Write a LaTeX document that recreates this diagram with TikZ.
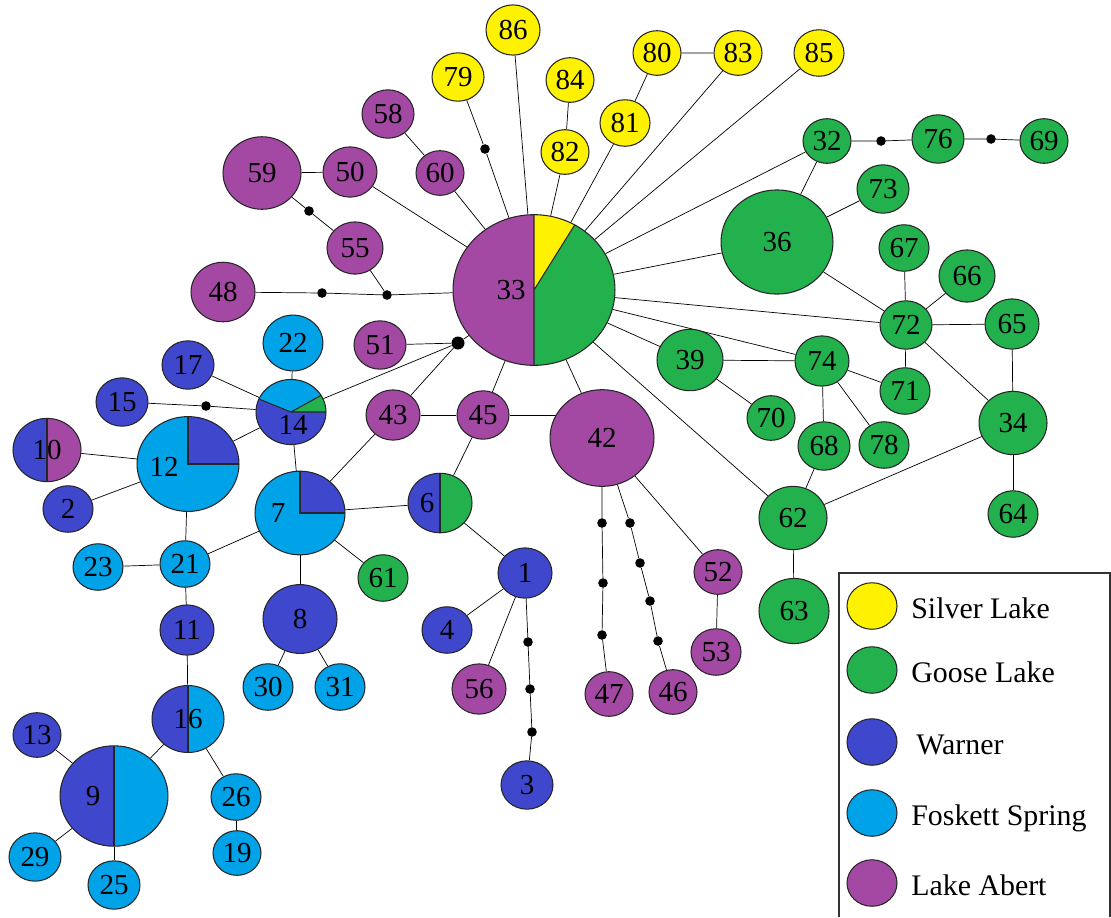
\documentclass[tikz,border=0pt]{standalone}
\usepackage{fontspec}
\setmainfont{Liberation Serif}
\usetikzlibrary{shapes.geometric,backgrounds}
\definecolor{silver}{HTML}{FFF200}
\definecolor{goose}{HTML}{22B14C}
\definecolor{warner}{HTML}{3F48CC}
\definecolor{foskett}{HTML}{00A2E8}
\definecolor{abert}{HTML}{A349A4}
\tikzset{
  hap/.style={ellipse, draw=black!85, line width=0.6pt, inner sep=0pt,
    minimum width=#1*0.04cm, minimum height=#1*0.0372cm},
  sl/.style={hap=#1, fill=silver},
  gl/.style={hap=#1, fill=goose},
  wa/.style={hap=#1, fill=warner},
  fs/.style={hap=#1, fill=foskett},
  la/.style={hap=#1, fill=abert},
  mut/.style={circle, fill=black, inner sep=0pt, minimum size=#1*0.04cm},
  mut/.default=4.8,
  link/.style={line width=0.5pt, black!85},
  pieline/.style={line width=0.6pt, black!85},
  quarter/.style={path picture={
    \fill[warner] (path picture bounding box.center) rectangle (path picture bounding box.north east);
    \draw[pieline] (path picture bounding box.north) -- (path picture bounding box.center)
      -- (path picture bounding box.east);}},
  halves/.style={path picture={
    \fill[#1] (path picture bounding box.north) rectangle (path picture bounding box.south east);
    \draw[pieline] (path picture bounding box.north) -- (path picture bounding box.south);}},
  pieA/.style={path picture={
    \fill[abert] (path picture bounding box.north) rectangle (path picture bounding box.south west);
    \fill[silver] (path picture bounding box.center) -- +(58:4cm) -- +(90:4cm) -- cycle;
    \draw[pieline] (path picture bounding box.north) -- (path picture bounding box.south)
      (path picture bounding box.center) -- +(58:4cm);}},
  pieB/.style={path picture={
    \fill[foskett] (path picture bounding box.center) -- +(29:4cm) -- +(90:4cm) -- +(158:4cm) -- cycle;
    \fill[goose] (path picture bounding box.center) -- +(0:4cm) -- +(29:4cm) -- cycle;
    \draw[pieline] (path picture bounding box.center) -- +(0:4cm)
      (path picture bounding box.center) -- +(29:4cm)
      (path picture bounding box.center) -- +(158:4cm);}},
  legtext/.style={anchor=base west, inner sep=0pt, font=\fontsize{17}{20}\selectfont},
}
\begin{document}
\begin{tikzpicture}[x=0.02cm, y=-0.02cm, font=\fontsize{16.5}{18}\selectfont]
\useasboundingbox (0,0) rectangle (1111,917);

% Silver Lake haplotypes
\node[sl=27] (n86) at (513,30) {86};
\node[sl=26] (n79) at (458,77) {79};
\node[sl=24] (n84) at (570,80) {84};
\node[sl=24] (n82) at (565,152) {82};
\node[sl=25] (n81) at (625,123) {81};
\node[sl=24] (n80) at (657,53) {80};
\node[sl=24] (n83) at (738,53) {83};
\node[sl=25] (n85) at (819,53) {85};

% Goose Lake haplotypes
\node[gl=24] (n32) at (827,141) {32};
\node[gl=26] (n76) at (938,139) {76};
\node[gl=24] (n69) at (1044,141) {69};
\node[gl=56] (n36) at (777,242) {36};
\node[gl=26] (n73) at (883,189) {73};
\node[gl=25] (n67) at (904,248) {67};
\node[gl=28] (n66) at (967,276) {66};
\node[gl=26] (n72) at (906,325) {72};
\node[gl=27] (n65) at (1012,324) {65};
\node[gl=33] (n39) at (690,360) {39};
\node[gl=27] (n74) at (822,361) {74};
\node[gl=25] (n71) at (905,391) {71};
\node[gl=24] (n70) at (771,418) {70};
\node[gl=34] (n34) at (1013,423) {34};
\node[gl=26] (n68) at (824,446) {68};
\node[gl=25] (n78) at (884,445) {78};
\node[gl=34] (n62) at (793,518) {62};
\node[gl=35] (n63) at (794,611) {63};
\node[gl=25] (n64) at (1013,514) {64};
\node[gl=25] (n61) at (383,578) {61};

% Lake Abert haplotypes
\node[gl=81, pieA, label={[xshift=-0.46cm]center:33}] (n33) at (534,290) {};
\node[la=26] (n58) at (388,114) {58};
\node[la=24] (n60) at (440,173) {60};
\node[la=39] (n59) at (262,173) {59};
\node[la=27] (n50) at (350,172) {50};
\node[la=28] (n55) at (355,248) {55};
\node[la=32] (n48) at (223,292) {48};
\node[la=26] (n51) at (380,345) {51};
\node[la=27] (n43) at (393,415) {43};
\node[la=26] (n45) at (483,415) {45};
\node[la=52] (n42) at (602,438) {42};
\node[la=24] (n52) at (718,572) {52};
\node[la=25] (n53) at (716,652) {53};
\node[la=24] (n47) at (609,694) {47};
\node[la=24] (n46) at (673,692) {46};
\node[la=27] (n56) at (479,689) {56};
\node[wa=34, halves=abert] (n10) at (47,450) {10};

% Warner haplotypes
\node[wa=26] (n17) at (188,365) {17};
\node[wa=26] (n15) at (122,402) {15};
\node[wa=35, pieB, label={[xshift=0.04cm,yshift=-0.26cm]center:14}] (n14) at (291,412) {};
\node[fs=51, quarter, label={[xshift=-0.48cm,yshift=-0.06cm]center:12}] (n12) at (188,464) {};
\node[wa=25] (n2) at (68,509) {2};
\node[fs=45, quarter, label={[xshift=-0.44cm]center:7}] (n7) at (300,513) {};
\node[wa=32, halves=goose, label={[xshift=-0.26cm]center:6}] (n6) at (440,503) {};
\node[wa=27] (n1) at (525,573) {1};
\node[wa=25] (n4) at (447,630) {4};
\node[wa=26] (n3) at (527,785) {3};
\node[wa=37] (n8) at (300,619) {8};
\node[wa=27] (n11) at (187,630) {11};
\node[wa=36, halves=foskett] (n16) at (188,719) {16};
\node[wa=24] (n13) at (37,735) {13};
\node[wa=54, halves=foskett, label={[xshift=-0.42cm]center:9}] (n9) at (114,796) {};

% Foskett Spring haplotypes
\node[fs=30] (n22) at (293,343) {22};
\node[fs=25] (n23) at (98,567) {23};
\node[fs=25] (n21) at (185,564) {21};
\node[fs=25] (n30) at (268,687) {30};
\node[fs=25] (n31) at (340,687) {31};
\node[fs=25] (n26) at (236,797) {26};
\node[fs=24] (n19) at (237,853) {19};
\node[fs=26] (n29) at (35,857) {29};
\node[fs=26] (n25) at (114,885) {25};

% missing intermediate haplotypes
\node[mut] (m79) at (485,149) {};
\node[mut] (m59) at (309,211) {};
\node[mut] (m48a) at (322,293) {};
\node[mut] (m48b) at (387,295) {};
\node[mut=6.5] (m51) at (458,343) {};
\node[mut] (m15) at (206,406) {};
\node[mut] (m32) at (881,141) {};
\node[mut] (m76) at (991,139) {};
\node[mut] (m1a) at (528,642) {};
\node[mut] (m1b) at (530,689) {};
\node[mut] (m1c) at (532,732) {};
\node[mut] (m47a) at (602,523) {};
\node[mut] (m47b) at (603,583) {};
\node[mut] (m47c) at (602,635) {};
\node[mut] (m46a) at (630,523) {};
\node[mut] (m46b) at (640,563) {};
\node[mut] (m46c) at (650,601) {};
\node[mut] (m46d) at (658,641) {};

% network links
\begin{scope}[on background layer, link]
\draw (n86) -- (n33);
\draw (n79) -- (m79) -- (n33);
\draw (n84) -- (n82) -- (n33);
\draw (n80) -- (n81) -- (n33);
\draw (n80) -- (n83) -- (n33);
\draw (n85) -- (n33);
\draw (n32) -- (n33);
\draw (n32) -- (m32) -- (n76) -- (m76) -- (n69);
\draw (n32) -- (n36);
\draw (n36) -- (n73);
\draw (n36) -- (n33);
\draw (n36) -- (n72);
\draw (n33) -- (n72);
\draw (n33) -- (n74);
\draw (n33) -- (n39);
\draw (n33) -- (n62);
\draw (n33) -- (n42);
\draw (n72) -- (n67);
\draw (n72) -- (n66);
\draw (n72) -- (n65);
\draw (n72) -- (n71);
\draw (n72) -- (n34);
\draw (n65) -- (n34);
\draw (n34) -- (n64);
\draw (n34) -- (n62);
\draw (n39) -- (n74);
\draw (n39) -- (n70);
\draw (n74) -- (n71);
\draw (n74) -- (n68);
\draw (n74) -- (n78);
\draw (n68) -- (n62);
\draw (n62) -- (n63);
\draw (n45) -- (n45 -| n42);
\draw (n42) -- (n52) -- (n53);
\draw (n42) -- (m47a) -- (m47b) -- (m47c) -- (n47);
\draw (n42) -- (m46a) -- (m46b) -- (m46c) -- (m46d) -- (n46);
\draw (n33) -- (n45);
\draw (n45) -- (n43);
\draw (n45) -- (n6);
\draw (n43) -- (n7);
\draw (n33) -- (m51);
\draw (n51) -- (m51);
\draw (m51) -- (n43);
\draw (m51) -- (n14);
\draw (n50) -- (n33);
\draw (n59) -- (n50);
\draw (n59) -- (m59) -- (n55);
\draw (n58) -- (n60) -- (n33);
\draw (n48) -- (m48a) -- (m48b) -- (n33);
\draw (n55) -- (m48b);
\draw (n22) -- (n14);
\draw (n17) -- (n14);
\draw (n15) -- (m15) -- (n14);
\draw (n10) -- (n12);
\draw (n2) -- (n12);
\draw (n12) -- (n14);
\draw (n12) -- (n21);
\draw (n14) -- (n7);
\draw (n7) -- (n21);
\draw (n7) -- (n6);
\draw (n7) -- (n8);
\draw (n7) -- (n61);
\draw (n6) -- (n1);
\draw (n1) -- (n4);
\draw (n1) -- (n56);
\draw (n1) -- (m1a) -- (m1b) -- (m1c) -- (n3);
\draw (n21) -- (n23);
\draw (n21) -- (n11) -- (n16);
\draw (n16) -- (n9);
\draw (n16) -- (n26) -- (n19);
\draw (n9) -- (n13);
\draw (n9) -- (n29);
\draw (n9) -- (n25);
\draw (n8) -- (n30);
\draw (n8) -- (n31);
\end{scope}

% legend
\coordinate (lgA) at (839,917);
\coordinate (lgB) at (839,573);
\coordinate (lgC) at (1110,573);
\coordinate (lgD) at (1110,917);
\draw[line width=0.8pt, black!80] (lgA) -- (lgB) -- (lgC) -- (lgD);
\node[sl=25] (k1) at (872,606) {};
\node[gl=25] (k2) at (872,670) {};
\node[wa=25] (k3) at (872,742) {};
\node[fs=25] (k4) at (872,813) {};
\node[la=25] (k5) at (872,883) {};
\node[legtext] (t1) at (911,618) {Silver Lake};
\node[legtext] (t2) at (911,682) {Goose Lake};
\node[legtext] (t3) at (916,754) {Warner};
\node[legtext] (t4) at (911,825) {Foskett Spring};
\node[legtext] (t5) at (911,895) {Lake Abert};
\end{tikzpicture}
\end{document}
